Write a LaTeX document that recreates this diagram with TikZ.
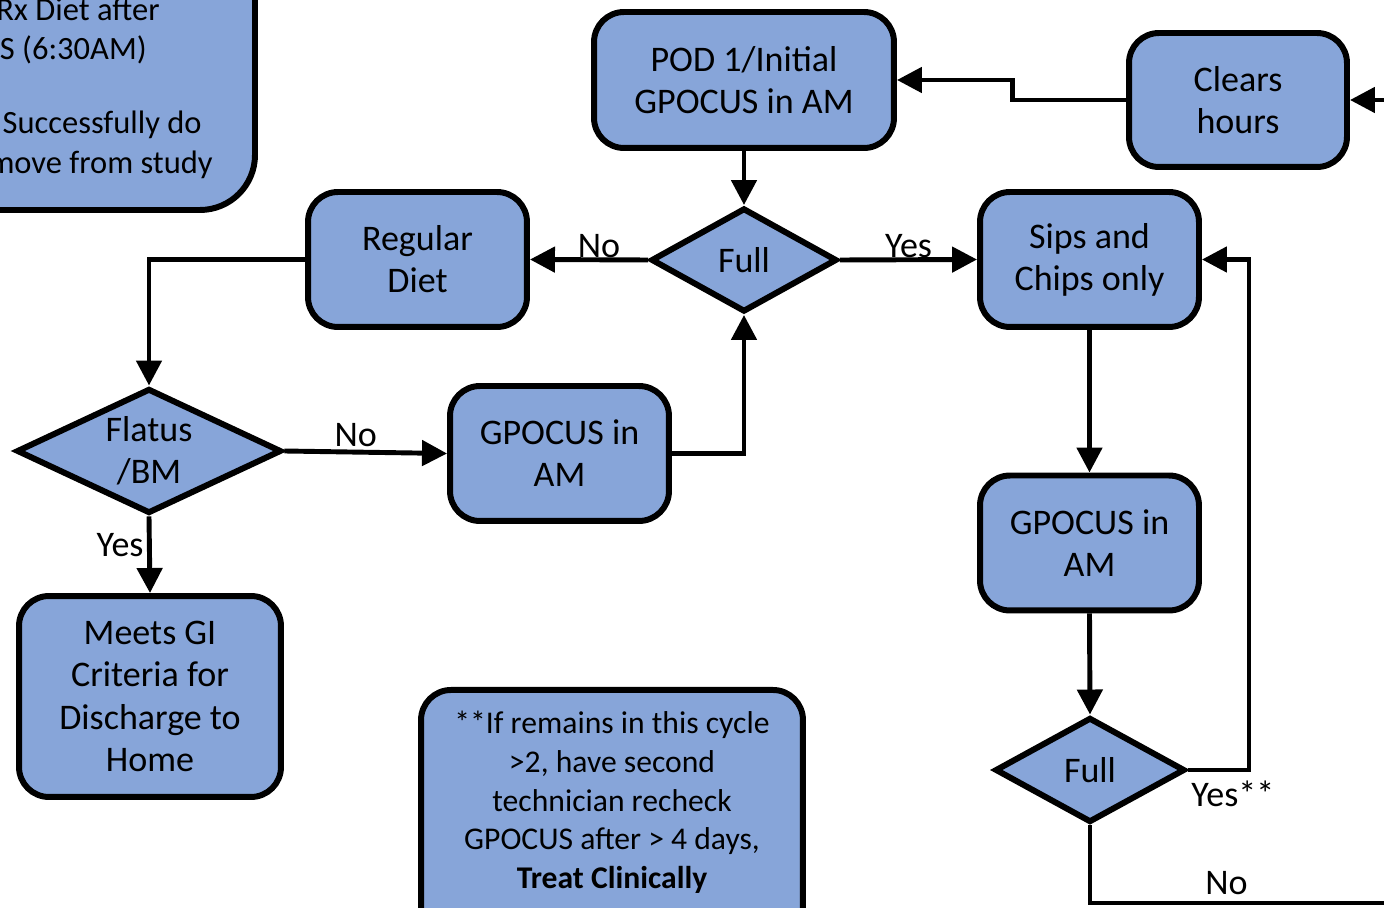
\documentclass[tikz,border=0pt]{standalone}
\usepackage{fontspec}
\setmainfont{Carlito}
\usetikzlibrary{shapes.geometric,arrows.meta,positioning}

\definecolor{boxblue}{RGB}{135,165,217}

\tikzset{
  box/.style={draw, line width=3.4pt, fill=boxblue, rounded corners=0.6cm,
    align=center, inner sep=2pt, font=\fontsize{20.5}{24}\selectfont},
  decision/.style={draw, line width=3.4pt, fill=boxblue, shape=diamond,
    align=center, inner sep=0pt, font=\fontsize{20.5}{24}\selectfont},
  flow/.style={line width=2.8pt, -{Triangle[length=0.5cm,width=0.5cm]}},
  lbl/.style={font=\fontsize{20.5}{24}\selectfont, inner sep=2pt},
  cut/.style={font=\fontsize{18.5}{22}\selectfont, inner sep=0pt, anchor=base east}
}

\begin{document}
\begin{tikzpicture}[x=0.02cm, y=-0.02cm]
  \useasboundingbox (0,0) rectangle (1384,908);
  \clip (0,0) rectangle (1384,908);

  % cut off box top left
  \draw[line width=3.4pt, fill=boxblue, rounded corners=1.1cm] (-300,-300) rectangle (255,210);
  \node[cut] (tl1) at (160,21) {Rx Diet after};
  \node[cut] (tl2) at (147,60) {S (6:30AM)};
  \node[cut] (tl3) at (202,134) {Successfully do};
  \node[cut] (tl4) at (213,174) {move from study};

  % boxes
  \node[box, minimum width=6cm, minimum height=2.72cm] (pod) at (744,80) {POD 1/Initial\\GPOCUS in AM};
  \node[box, minimum width=4.36cm, minimum height=2.68cm] (clears) at (1238,100) {Clears\\hours};
  \node[decision, aspect=1.8, minimum width=3.72cm, minimum height=2.08cm] (full) at (744,260) {Full};
  \node[box, minimum width=4.38cm, minimum height=2.7cm] (diet) at (417.5,259.5) {Regular\\Diet};
  \node[box, minimum width=4.38cm, minimum height=2.7cm] (sips) at (1089.5,259.5) {Sips and\\Chips only};
  \node[decision, aspect=2.1, minimum width=5.3cm, minimum height=2.5cm] (flatus) at (149,451) {Flatus\\/BM};
  \node[box, minimum width=4.38cm, minimum height=2.7cm] (gmid) at (559.5,453.5) {GPOCUS in\\AM};
  \node[box, minimum width=4.38cm, minimum height=2.7cm] (gright) at (1089.5,543) {GPOCUS in\\AM};
  \node[box, minimum width=5.24cm, minimum height=4.02cm] (meets) at (150,696.5)
    {Meets GI\\Criteria for\\Discharge to\\Home};
  \node[decision, aspect=1.8, minimum width=3.8cm, minimum height=2.1cm] (full2) at (1090,770) {Full};
  \node[box, minimum width=7.64cm, anchor=north, inner ysep=0.43cm,
    font=\fontsize{18}{22}\selectfont, text depth=2.1cm] (note) at (612,687)
    {**If remains in this cycle\\>2, have second\\technician recheck\\GPOCUS after > 4 days,\\\textbf{Treat Clinically}};

  % free ends
  \coordinate (rin) at (1400,100);
  \coordinate (rout) at (1400,903);

  % connectors
  \draw[flow] (rin) -- (clears.east);
  \draw[flow] (clears.west) -- ++(-114,0) |- (pod.east);
  \draw[flow] (pod.south) -- (full.north);
  \draw[flow] (full.west) -- (diet.east) node[lbl, midway, above, xshift=0.2cm, yshift=-0.08cm] {No};
  \draw[flow] (full.east) -- (sips.west) node[lbl, midway, above, yshift=-0.08cm] {Yes};
  \draw[flow] (diet.west) -| (flatus.north);
  \draw[flow] (flatus.east) -- (gmid.west) node[lbl, midway, above, xshift=-0.2cm] {No};
  \draw[flow] (gmid.east) -| (full.south);
  \draw[flow] (flatus.south) -- (meets.north) node[lbl, midway, left, yshift=0.2cm] {Yes};
  \draw[flow] (sips.south) -- (gright.north);
  \draw[flow] (gright.south) -- (full2.north);
  \draw[flow] (full2.east) -- ++(61,0) node[lbl, pos=0, below right, xshift=-0.05cm, yshift=-0.1cm] {Yes**} |- (sips.east);
  \draw[line width=2.8pt] (full2.south) |- (rout) node[lbl, pos=0.72, above, yshift=0.05cm] {No};
\end{tikzpicture}
\end{document}
